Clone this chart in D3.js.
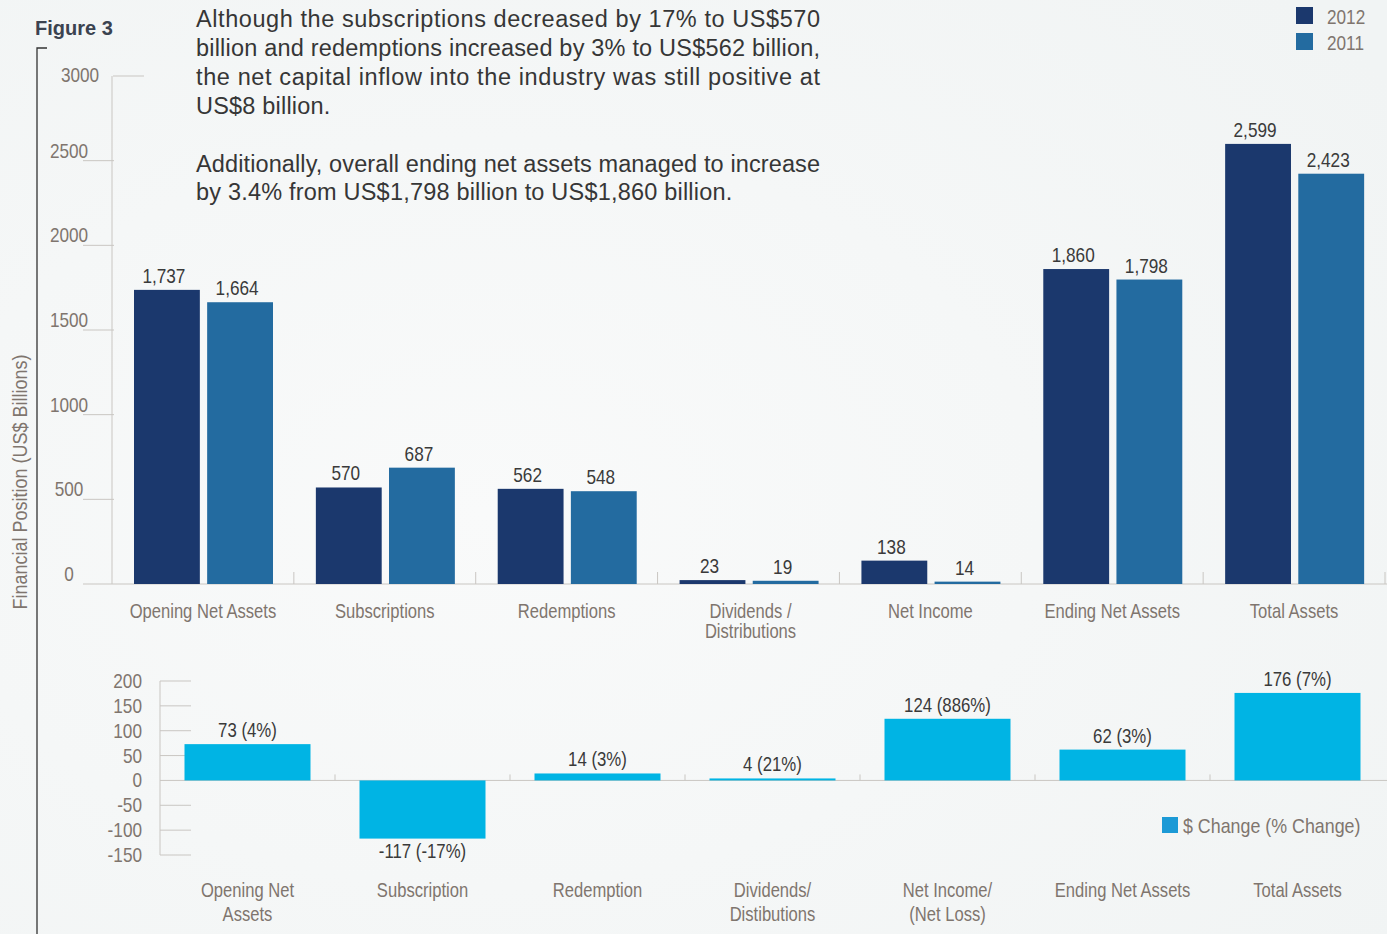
<!DOCTYPE html>
<html><head><meta charset="utf-8">
<script src="https://cdn.jsdelivr.net/npm/d3@7"></script>
<style>
html,body{margin:0;padding:0;background:#f3f5f5;}
svg{display:block;}
text{font-family:"Liberation Sans",Arial,Helvetica,sans-serif;}
</style></head>
<body>
<script>
const categories = ["Opening Net Assets","Subscriptions","Redemptions","Dividends / Distributions","Net Income","Ending Net Assets","Total Assets"];
const categoryLines = [["Opening Net Assets"],["Subscriptions"],["Redemptions"],["Dividends /","Distributions"],["Net Income"],["Ending Net Assets"],["Total Assets"]];
const series = ["2012","2011"];
const values2012 = [1737,570,562,23,138,1860,2599];
const values2011 = [1664,687,548,19,14,1798,2423];
const yTicks = [0,500,1000,1500,2000,2500,3000];

const changeCategories = ["Opening Net Assets","Subscription","Redemption","Dividends/Distibutions","Net Income/(Net Loss)","Ending Net Assets","Total Assets"];
const changeLines = [["Opening Net","Assets"],["Subscription"],["Redemption"],["Dividends/","Distibutions"],["Net Income/","(Net Loss)"],["Ending Net Assets"],["Total Assets"]];
const changeValues = [73,-117,14,4,124,62,176];
const changePct = ["4%","-17%","3%","21%","886%","3%","7%"];
const changeTicks = [-150,-100,-50,0,50,100,150,200];

const title = "Figure 3";
const note = ["Although the subscriptions decreased by 17% to US$570",
  "billion and redemptions increased by 3% to US$562 billion,",
  "the net capital inflow into the industry was still positive at",
  "US$8 billion.",
  "",
  "Additionally, overall ending net assets managed to increase",
  "by 3.4% from US$1,798 billion to US$1,860 billion."];
const noteJustified = [true,true,true,false,false,true,false];

const W = 1387, H = 934;
const colors = {"2012":"#1b386d","2011":"#236ba0"};
const changeColor = "#00b4e4";
const gray = "#7f756e";
const dark = "#3a3a3a";
const gridc = "#c9c6c2";
const SL = 0.83, SN = 0.86; // horizontal condensing for labels / numbers

const svg = d3.select("body").append("svg").attr("width",W).attr("height",H);
const defs = svg.append("defs");
const rg = defs.append("radialGradient").attr("id","bg").attr("cx","0.35").attr("cy","0.55").attr("r","0.8");
rg.append("stop").attr("offset","0").attr("stop-color","#f9fafa");
rg.append("stop").attr("offset","1").attr("stop-color","#f1f4f4");
svg.append("rect").attr("width",W).attr("height",H).attr("fill","url(#bg)");

function ctext(g, x, y, str, size, fill, anchor, sx){
  return g.append("text").attr("transform",`translate(${x},${y}) scale(${sx},1)`)
    .attr("text-anchor",anchor).attr("font-size",size).attr("fill",fill).text(str);
}

// bracket + title
svg.append("path").attr("d","M47,48 H37 V934").attr("fill","none").attr("stroke","#333").attr("stroke-width",1.3);
svg.append("text").attr("x",35).attr("y",35).attr("font-size",20).attr("font-weight","bold").attr("fill","#3b4350").text(title);

// note text
note.forEach((line,i)=>{
  if(!line) return;
  const t = svg.append("text").attr("x",196).attr("y",27+i*28.9).attr("font-size",23.5)
    .attr("fill","#363636").text(line);
  if(noteJustified[i]) t.attr("textLength",624).attr("lengthAdjust","spacing");
  else t.attr("letter-spacing",0.2);
});

// ---- top chart ----
const x = d3.scaleBand().domain(categories).range([112,1385]);
const xs = d3.scaleBand().domain(series).range([22,161]).paddingInner(0.1);
const y = d3.scaleLinear().domain([0,3000]).range([584,76]);
const gTop = svg.append("g");

gTop.append("line").attr("x1",112).attr("x2",112).attr("y1",y(3000)).attr("y2",y(0)).attr("stroke",gridc);
yTicks.forEach(t=>{
  if(t===0){
    gTop.append("line").attr("x1",83).attr("x2",1387).attr("y1",y(0)).attr("y2",y(0)).attr("stroke",gridc);
  } else if(t===3000){
    gTop.append("line").attr("x1",113).attr("x2",144).attr("y1",y(t)).attr("y2",y(t)).attr("stroke",gridc);
  } else {
    gTop.append("line").attr("x1",83).attr("x2",114).attr("y1",y(t)).attr("y2",y(t)).attr("stroke",gridc);
  }
  ctext(gTop, t===3000?80:69, t===3000? y(t)+6 : y(t)-3, t, 20, gray, "middle", SN);
});
categories.forEach((c,i)=>{ if(i>0) gTop.append("line").attr("x1",x(c)).attr("x2",x(c)).attr("y1",572).attr("y2",584).attr("stroke",gridc); });
gTop.append("line").attr("x1",1385).attr("x2",1385).attr("y1",572).attr("y2",584).attr("stroke",gridc);

const rows = categories.map((c,i)=>({c, vals:[{s:"2012",v:values2012[i]},{s:"2011",v:values2011[i]}]}));
const cg = gTop.selectAll("g.cat").data(rows).join("g").attr("transform",d=>`translate(${x(d.c)},0)`);
cg.selectAll("rect").data(d=>d.vals).join("rect")
  .attr("x",d=>xs(d.s)).attr("width",xs.bandwidth())
  .attr("y",d=>y(d.v)).attr("height",d=>y(0)-y(d.v)).attr("fill",d=>colors[d.s]);
cg.each(function(d){
  const g = d3.select(this);
  d.vals.forEach(v=>ctext(g, xs(v.s)+xs.bandwidth()/2-3, y(v.v)-7, d3.format(",")(v.v), 20, dark, "middle", SN));
});
categoryLines.forEach((lines,i)=>{
  lines.forEach((l,j)=>{
    ctext(gTop, x(categories[i])+x.bandwidth()/2 + (lines.length>1?2:0), 618+j*20, l, 20, gray, "middle", SL);
  });
});
svg.append("text").attr("transform",`translate(27,482) rotate(-90) scale(0.9,1)`)
  .attr("text-anchor","middle").attr("font-size",20).attr("fill",gray).text("Financial Position (US$ Billions)");

series.forEach((s,i)=>{
  svg.append("rect").attr("x",1296).attr("y",7+i*26).attr("width",17).attr("height",17).attr("fill",colors[s]);
  ctext(svg, 1327, 24+i*26, s, 20, gray, "start", SN);
});

// ---- bottom chart ----
const x2 = d3.scaleBand().domain(changeCategories).range([160,1385]).paddingInner(0.28).paddingOuter(0.14);
const y2 = d3.scaleLinear().domain([-150,200]).range([855,681]);
const bot = svg.append("g");
bot.append("line").attr("x1",160).attr("x2",160).attr("y1",y2(200)).attr("y2",y2(-150)).attr("stroke",gridc);
changeTicks.forEach(t=>{
  bot.append("line").attr("x1",160).attr("x2", t===0?1387:191).attr("y1",y2(t)).attr("y2",y2(t)).attr("stroke",gridc);
  ctext(bot, 142, y2(t)+7, t, 20, gray, "end", SN);
});
const step2 = x2.step();
changeCategories.forEach((c,i)=>{
  const bx = 160 + step2*(i+1);
  if(i<6) bot.append("line").attr("x1",bx).attr("x2",bx).attr("y1",y2(0)-6).attr("y2",y2(0)).attr("stroke",gridc);
});
const crow = changeCategories.map((c,i)=>({c,v:changeValues[i],p:changePct[i]}));
bot.selectAll("rect.b").data(crow).join("rect").attr("class","b")
  .attr("x",d=>x2(d.c)).attr("width",x2.bandwidth())
  .attr("y",d=>y2(Math.max(0,d.v))).attr("height",d=>Math.abs(y2(d.v)-y2(0))).attr("fill",changeColor);
crow.forEach(d=>{
  ctext(bot, x2(d.c)+x2.bandwidth()/2, d.v>=0? y2(d.v)-7 : y2(d.v)+19, `${d.v} (${d.p})`, 20, dark, "middle", 0.84);
});
changeLines.forEach((lines,i)=>{
  lines.forEach((l,j)=>{
    ctext(bot, x2(changeCategories[i])+x2.bandwidth()/2, 897+j*24, l, 20, gray, "middle", SL);
  });
});
svg.append("rect").attr("x",1162).attr("y",817).attr("width",16).attr("height",16).attr("fill","#1c9ad6");
ctext(svg, 1183, 833, "$ Change (% Change)", 21, gray, "start", 0.85);
</script>
</body></html>
